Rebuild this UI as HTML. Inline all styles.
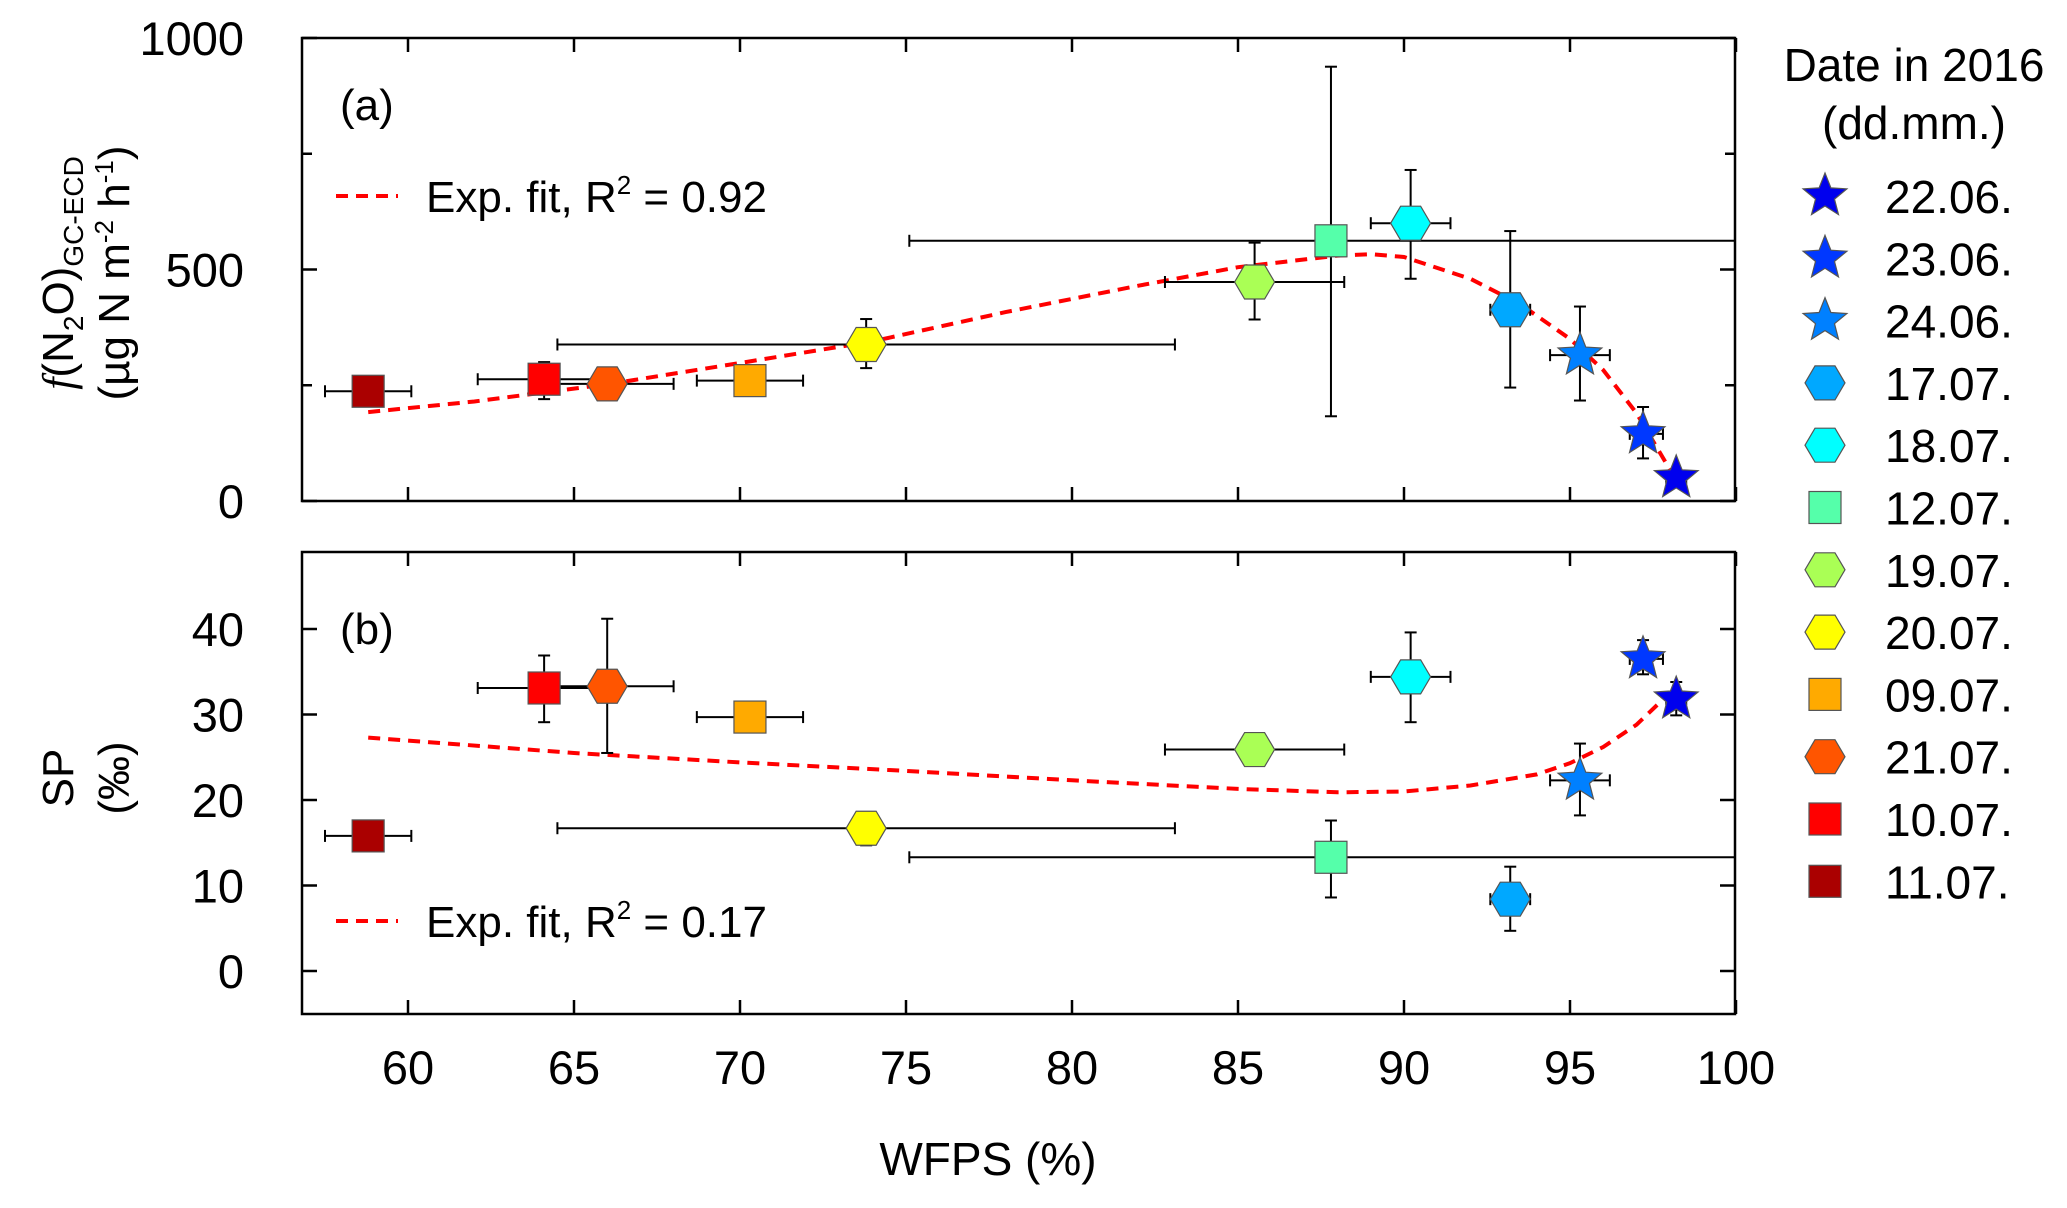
<!DOCTYPE html>
<html><head><meta charset="utf-8"><style>
html,body{margin:0;padding:0;background:#fff;}
svg{display:block;font-family:"Liberation Sans",Arial,sans-serif;}
</style></head><body>
<svg id="chart" width="2067" height="1208" viewBox="0 0 2067 1208" xmlns="http://www.w3.org/2000/svg">
<defs>
<clipPath id="clipA"><rect x="302" y="38" width="1433" height="463"/></clipPath>
<clipPath id="clipB"><rect x="302" y="552" width="1433" height="462"/></clipPath>
</defs>
<g id="axes"></g>
<g id="fits"></g>
<g id="marks"></g>
<g id="legend"></g>
</svg>
<script>
// ---- data ----
const dates = ["22.06.","23.06.","24.06.","17.07.","18.07.","12.07.","19.07.","20.07.","09.07.","21.07.","10.07.","11.07."];
const shapes = ["star","star","star","hex","hex","sq","hex","hex","sq","hex","sq","sq"];
const colors = ["#0000ee","#0038ff","#0080ff","#00a8ff","#00ffff","#55ffaa","#aaff55","#ffff00","#ffaa00","#ff5500","#ff0000","#aa0000"];
const wfps   = [98.2, 97.2, 95.3, 93.2, 90.2, 87.8, 85.5, 73.8, 70.3, 66.0, 64.1, 58.8];
const wfpsLo = [97.9, 96.8, 94.4, 92.6, 89.0, 75.1, 82.8, 64.5, 68.7, 64.0, 62.1, 57.5];
const wfpsHi = [98.5, 97.8, 96.2, 93.8, 91.4, 102, 88.2, 83.1, 71.9, 68.0, 66.1, 60.1];
const flux   = [50, 145, 315, 413, 600, 562, 473, 338, 260, 253, 263, 237];
const fluxLo = [38, 92, 217, 245, 480, 183, 392, 287, 260, 253, 220, 237];
const fluxHi = [62, 203, 420, 583, 715, 938, 558, 393, 260, 253, 300, 237];
const sp     = [31.8, 36.5, 22.3, 8.4, 34.4, 13.3, 25.9, 16.7, 29.7, 33.3, 33.1, 15.8];
const spLo   = [29.9, 34.7, 18.2, 4.7, 29.1, 8.6, 25.9, 14.7, 29.7, 25.5, 29.1, 15.8];
const spHi   = [33.8, 38.7, 26.6, 12.2, 39.6, 17.6, 25.9, 18.6, 29.7, 41.2, 36.9, 15.8];
const fitAx  = [58.8, 62, 66, 70, 74, 78, 82, 85, 88, 89, 90, 92, 93.5, 95, 96, 97, 98.2];
const fitAy  = [192, 215, 252, 298, 345, 408, 465, 505, 530, 533, 527, 480, 425, 350, 283, 190, 45];
const fitBx  = [58.8, 65, 70, 75, 80, 85, 88, 90, 92, 94, 95, 96, 97, 98];
const fitBy  = [27.3, 25.5, 24.4, 23.4, 22.3, 21.3, 20.9, 21.0, 21.7, 23.0, 24.3, 26.2, 28.8, 32.5];
const xTicks = [60,65,70,75,80,85,90,95,100];
const aTicks = [0,250,500,750,1000];
const aLabels = [0,500,1000];
const bTicks = [0,10,20,30,40];

// ---- scales ----
const X0=302, X1=1735;
const xs = v => 408 + (v-60)*33.2;
const ya = v => 501 - v*0.463;
const yb = v => 971 - v*8.55;
const NS="http://www.w3.org/2000/svg";
function el(tag, attrs, parent){const e=document.createElementNS(NS,tag);for(const k in attrs)e.setAttribute(k,attrs[k]);if(parent)parent.appendChild(e);return e;}
const axes=document.getElementById('axes'), fits=document.getElementById('fits'), marks=document.getElementById('marks'), legend=document.getElementById('legend');

function panel(name, top, bottom, yTicks, yf, labelVals, isA){
  const f = el('rect',{x:X0,y:top,width:X1-X0,height:bottom-top,fill:'none',stroke:'#000','stroke-width':2.5},axes);
  
  
  xTicks.forEach(t=>{
    const x=xs(t);
    const l1=el('line',{x1:x,y1:bottom,x2:x,y2:bottom-14,stroke:'#000','stroke-width':2.5},axes);
    
    
    el('line',{x1:x,y1:top,x2:x,y2:top+14,stroke:'#000','stroke-width':2.5},axes);
  });
  yTicks.forEach(t=>{
    const y=yf(t); const len=(isA && t%500!==0)?10:15;
    const l=el('line',{x1:X0,y1:y,x2:X0+len,y2:y,stroke:'#000','stroke-width':2.5},axes);
    
    
    el('line',{x1:X1,y1:y,x2:X1-len,y2:y,stroke:'#000','stroke-width':2.5},axes);
  });
  labelVals.forEach(t=>{
    const tx=el('text',{x:244,y:yf(t)+17,'text-anchor':'end','font-size':47},axes);
    tx.textContent=t;
    
    
  });
}
panel('panel-a',38,501,aTicks,ya,aLabels,true);
panel('panel-b',552,1014,bTicks,yb,bTicks,false);
xTicks.forEach(t=>{
  const tx=el('text',{x:xs(t),y:1084,'text-anchor':'middle','font-size':47},axes);
  tx.textContent=t;
  
  
});

// fits
function fitPath(xa, ya_, yf, clip, name){
  let d='';
  xa.forEach((v,i)=>{d+=(i?'L':'M')+xs(v).toFixed(1)+','+yf(ya_[i]).toFixed(1);});
  const p=el('path',{d:d,fill:'none',stroke:'#ff0000','stroke-width':4,'stroke-dasharray':'12,8','clip-path':clip},fits);
  
  
}

// markers
function marker(g, shape, cx, cy, color, s){
  const st={fill:color,stroke:'#555','stroke-width':1.2};
  if(shape==='sq'){ return el('rect',Object.assign({x:cx-16,y:cy-16,width:32,height:32},st),g); }
  if(shape==='hex'){ const w=20,h=17; return el('polygon',Object.assign({points:`${cx-w},${cy} ${cx-w/2},${cy-h} ${cx+w/2},${cy-h} ${cx+w},${cy} ${cx+w/2},${cy+h} ${cx-w/2},${cy+h}`},st),g); }
  let pts=[];for(let i=0;i<10;i++){const r=i%2?10:23;const a=-Math.PI/2+i*Math.PI/5;pts.push((cx+r*Math.cos(a)).toFixed(1)+','+(cy+r*Math.sin(a)).toFixed(1));}
  return el('polygon',Object.assign({points:pts.join(' ')},st),g);
}
function errbar(g,x1,y1,x2,y2,horiz){
  el('line',{x1:x1,y1:y1,x2:x2,y2:y2,stroke:'#000','stroke-width':2},g);
  if(horiz){[x1,x2].forEach(x=>el('line',{x1:x,y1:y1-6,x2:x,y2:y1+6,stroke:'#000','stroke-width':2},g));}
  else{[y1,y2].forEach(y=>el('line',{x1:x1-6,y1:y,x2:x1+6,y2:y,stroke:'#000','stroke-width':2},g));}
}
function drawPanel(vals, lo, hi, yf, clip, pname){
  const gE=el('g',{'clip-path':clip},marks);
  const gM=el('g',{},marks);
  dates.forEach((d,i)=>{
    const cx=xs(wfps[i]), cy=yf(vals[i]);
    const eb=el('g',{},gE);
    
    
    const xl=Math.max(xs(wfpsLo[i]),X0-10), xh=Math.min(xs(wfpsHi[i]),X1+10);
    errbar(eb,xl,cy,xh,cy,true);
    if(hi[i]-lo[i]>0) errbar(eb,cx,yf(hi[i]),cx,yf(lo[i]),false);
    const m=marker(gM,shapes[i],cx,cy,colors[i]);
    
    
  });
}
drawPanel(flux,fluxLo,fluxHi,ya,'url(#clipA)','panel-a');
fitPath(fitAx,fitAy,ya,'url(#clipA)','panel-a-fit-curve');
drawPanel(sp,spLo,spHi,yb,'url(#clipB)','panel-b');
fitPath(fitBx,fitBy,yb,'url(#clipB)','panel-b-fit-curve');

// legend
dates.forEach((d,i)=>{
  const y=196+i*62.3;
  const g=el('g',{},legend);
  
  
  marker(g,shapes[i],1825,y,colors[i]);
  const t=el('text',{x:1885,y:y+17,'font-size':46},g);
  t.textContent=d;
});
</script>
<svg width="0" height="0"></svg>
<div style="position:absolute;left:0;top:0;width:2067px;height:1208px;pointer-events:none;">
<svg width="2067" height="1208" style="position:absolute;left:0;top:0;font-family:'Liberation Sans',Arial,sans-serif;">
  <text x="1914" y="81" text-anchor="middle" font-size="46">Date in 2016</text>
  <text x="1914" y="139" text-anchor="middle" font-size="46">(dd.mm.)</text>
  <text x="340" y="120" font-size="44">(a)</text>
  <text x="340" y="644" font-size="44">(b)</text>
  <g>
    <line x1="336" y1="196" x2="398" y2="196" stroke="#ff0000" stroke-width="4" stroke-dasharray="12,8"/>
    <text x="426" y="212" font-size="44">Exp. fit, R<tspan dy="-18" font-size="26">2</tspan><tspan dy="18"> = 0.92</tspan></text>
  </g>
  <g>
    <line x1="336" y1="921" x2="398" y2="921" stroke="#ff0000" stroke-width="4" stroke-dasharray="12,8"/>
    <text x="426" y="937" font-size="44">Exp. fit, R<tspan dy="-18" font-size="26">2</tspan><tspan dy="18"> = 0.17</tspan></text>
  </g>
  <text x="988" y="1175" text-anchor="middle" font-size="46">WFPS (%)</text>
  <g transform="translate(73,273) rotate(-90)">
    <text x="0" y="0" text-anchor="middle" font-size="44"><tspan font-family="'Liberation Serif',serif" font-style="italic">f</tspan>(N<tspan dy="10" font-size="28">2</tspan><tspan dy="-10">O)</tspan><tspan dy="10" font-size="28">GC-ECD</tspan></text>
    <text x="0" y="56" text-anchor="middle" font-size="44">(µg N m<tspan dy="-16" font-size="26">-2</tspan><tspan dy="16"> h</tspan><tspan dy="-16" font-size="26">-1</tspan><tspan dy="16">)</tspan></text>
  </g>
  <g transform="translate(73,778) rotate(-90)">
    <text x="0" y="0" text-anchor="middle" font-size="44">SP</text>
    <text x="0" y="56" text-anchor="middle" font-size="44">(‰)</text>
  </g>
</svg>
</div>
</body></html>
